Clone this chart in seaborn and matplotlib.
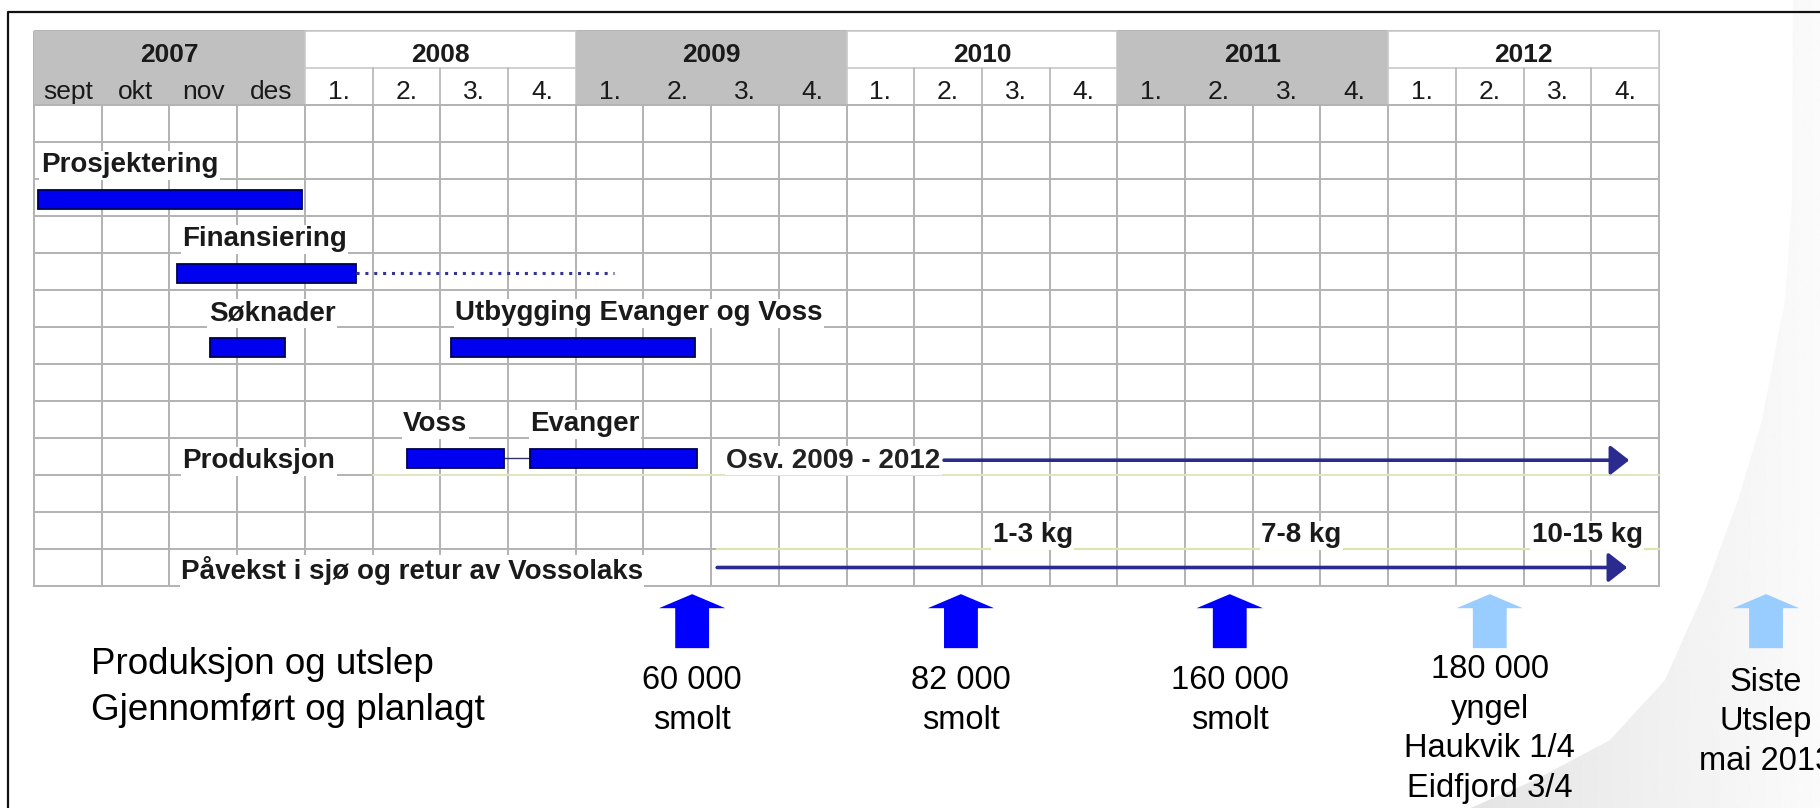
import numpy as np
import pandas as pd
import seaborn as sns
import matplotlib.pyplot as plt
import matplotlib.patches as mpatches
from matplotlib.colors import ListedColormap

# ---- values (x in grid columns, rows counted below the header) ----
years = ['2007', '2008', '2009', '2010', '2011', '2012']
periods = ['sept', 'okt', 'nov', 'des'] + ['1.', '2.', '3.', '4.'] * 5

bar_tasks = ['Prosjektering', 'Finansiering', 'Søknader', 'Utbygging', 'Voss', 'Evanger']
bar_start = [0.06, 2.11, 2.60, 6.16, 5.51, 7.33]
bar_end = [3.96, 4.76, 3.71, 9.76, 6.94, 9.79]
bar_row = [2, 4, 6, 6, 9, 9]

labels = ['Prosjektering', 'Finansiering', 'Søknader', 'Utbygging Evanger og Voss',
          'Voss', 'Evanger', 'Produksjon', 'Påvekst i sjø og retur av Vossolaks']
label_start = [0.10, 2.19, 2.58, 6.22, 5.45, 7.33, 2.19, 2.17]
label_row = [1, 3, 5, 5, 8, 8, 9, 12]

finans_plan_end = 8.57
voss_evanger_link = [6.94, 7.33]
prod_text = 'Osv. 2009 - 2012'
prod_text_start = 10.22
prod_arrow = [13.44, 23.56]
sea_arrow = [10.09, 23.53]

weights = ['1-3 kg', '7-8 kg', '10-15 kg']
weight_start = [14.16, 18.12, 22.12]

release_x = [9.72, 13.69, 17.66, 21.50, 25.58]
release_text = ['60 000\nsmolt', '82 000\nsmolt', '160 000\nsmolt',
                '180 000\nyngel\nHaukvik 1/4\nEidfjord 3/4', 'Siste\nUtslep\nmai 2013']
release_done = [True, True, True, False, False]

# ---- layout (pixels of the 1820x808 picture) ----
W, H = 1820, 808
X0, Y0 = 34, 31          # top-left corner of the table
CW, RH = 67.71, 37       # column width, row height
n_body = 13
n_cols = len(periods)


def to_data(px, py):
    return (np.asarray(px) - X0) / CW, (np.asarray(py) - Y0) / RH


sns.set_theme(style='white')
plt.rcParams['font.family'] = ['Liberation Sans', 'DejaVu Sans']

fig = plt.figure(figsize=(W / 100, H / 100), dpi=100)
ax = fig.add_axes([0, 0, 1, 1])

# page curl in the right corner
curl_px = [1793, 1792, 1785, 1762, 1738, 1705, 1665, 1610, 1535, 1459, 1830, 1830]
curl_py = [-5, 200, 300, 420, 500, 590, 680, 740, 780, 813, 813, -5]
cx, cy = to_data(curl_px, curl_py)
curl = mpatches.Polygon(np.column_stack([cx, cy]), closed=True, facecolor='none',
                        edgecolor='none', zorder=0.5)
ax.add_patch(curl)
gx0, gy0 = to_data(1455, -5)
gx1, gy1 = to_data(1830, 813)
grad = np.linspace(0.89, 0.985, 256)[None, :]
im = ax.imshow(grad, extent=(gx0, gx1, gy1, gy0), cmap='gray', vmin=0, vmax=1,
               aspect='auto', zorder=0.5)
im.set_clip_path(curl)

# body grid of the Gantt table
cells = pd.DataFrame(np.zeros((n_body + 2, n_cols)))
mask = np.zeros(cells.shape, dtype=bool)
mask[:2] = True
sns.heatmap(cells, mask=mask, cmap=ListedColormap(['white']), vmin=0, vmax=1,
            cbar=False, linewidths=1.4, linecolor='#b4b4b4',
            xticklabels=False, yticklabels=False, ax=ax)

# header: years and quarters
line_c = '#b4b4b4'
starts = [0] + [4 + 4 * i for i in range(len(years) - 1)]
for i, (yr, c0) in enumerate(zip(years, starts)):
    shaded = i % 2 == 0
    ax.add_patch(mpatches.Rectangle((c0, 0), 4, 2, facecolor='#c0c0c0' if shaded else 'white',
                                    edgecolor='none' if shaded else '#c8c8c8', lw=1.2, zorder=2))
    if not shaded:
        ax.plot([c0, c0 + 4], [1, 1], color='#c8c8c8', lw=1.2, zorder=2.1)
        for k in range(1, 4):
            ax.plot([c0 + k, c0 + k], [1, 2], color=line_c, lw=1.2, zorder=2.1)
    ax.text(c0 + 2, 0.84, yr, ha='center', va='baseline', fontsize=19,
            fontweight='bold', color='#1a1a1a', zorder=3)
for j, p in enumerate(periods):
    ax.text(j + 0.5, 1.84, p, ha='center', va='baseline', fontsize=19,
            color='#1a1a1a', zorder=3)
ax.plot([0, n_cols], [2, 2], color=line_c, lw=1.4, zorder=2.2)

# faint yellow-green row lines
ax.plot([sea_arrow[0], n_cols], [14, 14], color='#dde5b5', lw=1.6, zorder=2.3)
ax.plot([5, n_cols], [12, 12], color='#e2e8c4', lw=1.4, zorder=2.3)

box = dict(facecolor='white', edgecolor='none', pad=1.0)

# task labels
for lab, x, r in zip(labels, label_start, label_row):
    ax.text(x, r + 2.82, lab, ha='left', va='baseline', fontsize=20, fontweight='bold',
            color='#1a1a1a', bbox=box, zorder=3)

# bars
ax.barh([r + 2.55 for r in bar_row], np.subtract(bar_end, bar_start), left=bar_start,
        height=0.5, color='#0000f0', edgecolor='#000050', linewidth=1.3, zorder=4)

ax.plot([bar_end[1], finans_plan_end], [4 + 2.55] * 2, color='#333399', lw=2.2,
        linestyle=(0, (1, 1.9)), zorder=4)
ax.plot(voss_evanger_link, [9 + 2.55] * 2, color='#333366', lw=1, zorder=3.5)

ax.text(prod_text_start, 9 + 2.8, prod_text, ha='left', va='baseline', fontsize=20,
        fontweight='bold', color='#222222', bbox=box, zorder=3)

arrow_kw = dict(arrowstyle='-|>,head_length=1.15,head_width=0.9', color='#2b2b8f', lw=2.6,
                mutation_scale=10, shrinkA=0, shrinkB=0)
ax.annotate('', xy=(prod_arrow[1], 9 + 2.6), xytext=(prod_arrow[0], 9 + 2.6),
            arrowprops=arrow_kw, zorder=4)
ax.annotate('', xy=(sea_arrow[1], 12 + 2.5), xytext=(sea_arrow[0], 12 + 2.5),
            arrowprops=arrow_kw, zorder=4)

for w, x in zip(weights, weight_start):
    ax.text(x, 11 + 2.82, w, ha='left', va='baseline', fontsize=20, fontweight='bold',
            color='#1a1a1a', bbox=box, zorder=3)

# releases below the table (va='baseline' anchors the last line)
ax.text(0.84, 18.62, 'Produksjon og utslep\nGjennomført og planlagt', ha='left',
        va='baseline', fontsize=26.5, linespacing=1.39, color='black', zorder=5)

last_base = [18.86, 18.86, 18.86, 20.70, 19.97]
for x, t, done, yb in zip(release_x, release_text, release_done, last_base):
    col = '#0000ff' if done else '#99ccff'
    ax.add_patch(mpatches.FancyArrow(x, 16.68, 0, -1.46, width=0.50, head_width=0.98,
                                     head_length=0.38, length_includes_head=True,
                                     facecolor=col, edgecolor='none', zorder=4))
    ax.text(x, yb, t, ha='center', va='baseline', fontsize=23.5, linespacing=1.36,
            multialignment='center', color='black', zorder=5)

# outer frame (left and top edges)
fx, fy = to_data([8, 8, 1830], [813, 12, 12])
ax.plot(fx, fy, color='#111111', lw=1.6, zorder=6, clip_on=False)

ax.set_xlim(-X0 / CW, (W - X0) / CW)
ax.set_ylim((H - Y0) / RH, -Y0 / RH)
ax.axis('off')

fig.savefig('out.png', dpi=100, facecolor='white')
